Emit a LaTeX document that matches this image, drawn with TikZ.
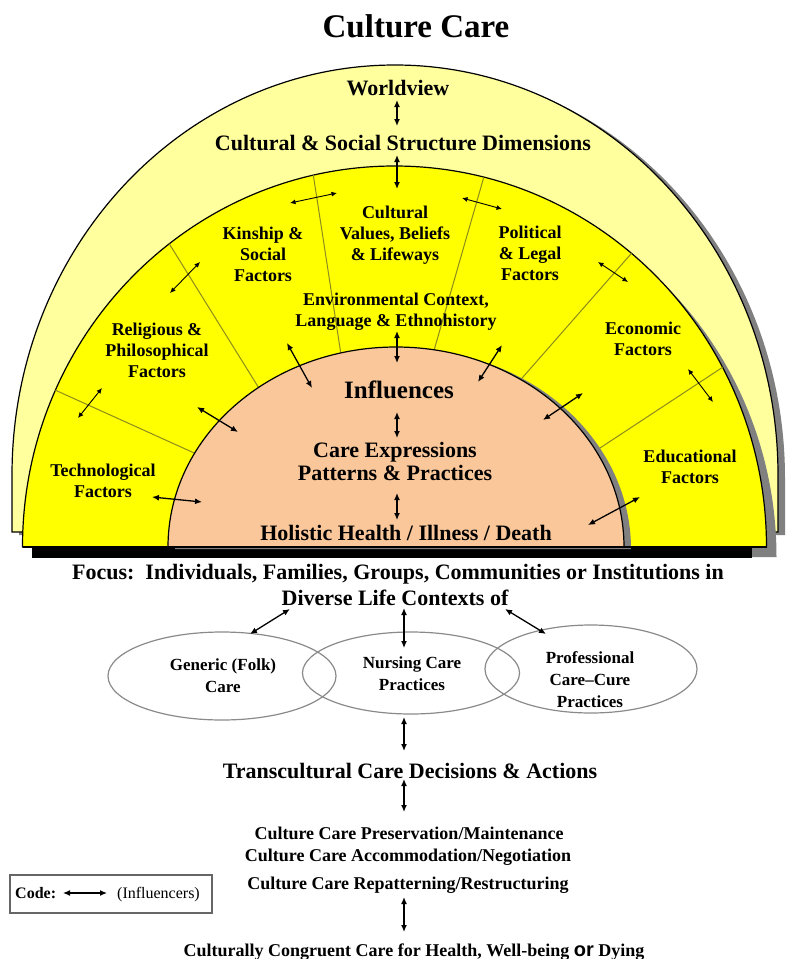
\documentclass[tikz,border=0pt]{standalone}
\usepackage{fontspec}
\setmainfont{Liberation Serif}
\setsansfont{Liberation Sans}
\usetikzlibrary{arrows.meta,shapes.geometric}
\definecolor{paleyel}{HTML}{FFFF9E}
\definecolor{midyel}{HTML}{FFFF00}
\definecolor{coretan}{HTML}{F9C79A}
\definecolor{shadowgray}{HTML}{808080}
\definecolor{divline}{HTML}{8C8C1E}
\definecolor{ellgray}{HTML}{8A8A8A}
\tikzset{
  factor/.style={font=\bfseries\fontsize{18}{21}\selectfont, align=center, anchor=base, inner sep=0pt},
  bigtext/.style={font=\bfseries\fontsize{22}{23}\selectfont, align=center, anchor=base, inner sep=0pt},
  midtext/.style={font=\bfseries\fontsize{18}{20}\selectfont, align=center, anchor=base, inner sep=0pt},
  elltext/.style={font=\bfseries\fontsize{17}{22}\selectfont, align=center, anchor=base, inner sep=0pt},
  ellshape/.style={ellipse, draw=ellgray, line width=1.2pt, inner sep=0pt},
  biarrow/.style={{Latex[length=7pt,width=6pt]}-{Latex[length=7pt,width=6pt]}, line width=1.3pt},
  smallarrow/.style={{Latex[length=5.5pt,width=5pt]}-{Latex[length=5.5pt,width=5pt]}, line width=0.9pt},
  codearrow/.style={{Latex[length=7pt,width=6pt]}-{Latex[length=7pt,width=6pt]}, line width=1.2pt},
  divider/.style={draw=divline, line width=1pt, shorten <=-12pt, shorten >=-12pt},
  outline/.style={draw=black, line width=1.2pt}
}
\begin{document}
\begin{tikzpicture}[x=1pt,y=-1pt]
\useasboundingbox (0,0) rectangle (791,959);

% outer pale band
\fill[shadowgray, shift={(7,3)}] (12,532) -- (12,475) arc[start angle=180,end angle=360,x radius=383,y radius=410] -- (778,532) -- cycle;
\filldraw[fill=paleyel, outline] (12,532) -- (12,475) arc[start angle=180,end angle=360,x radius=383,y radius=410] -- (778,532) -- cycle;

% middle yellow band
\fill[shadowgray, shift={(10,10)}] (22.5,547) arc[start angle=180,end angle=360,x radius=372,y radius=381] -- cycle;
\fill[black] (32,548) rectangle (752,558);
\filldraw[fill=midyel, outline] (22.5,547) arc[start angle=180,end angle=360,x radius=372,y radius=381] -- cycle;

% dividers
\begin{scope}
  \clip (22.5,547) arc[start angle=180,end angle=360,x radius=372,y radius=381] -- cycle;
  \draw[divider] (55,390) -- (192,452);
  \draw[divider] (170,245) -- (257,385);
  \draw[divider] (313,173) -- (340,348);
  \draw[divider] (483,180) -- (435,347);
  \draw[divider] (630,255) -- (523,377);
  \draw[divider] (723,367) -- (600,448);
\end{scope}

% inner core
\fill[shadowgray, shift={(7,2)}] (168,547) arc[start angle=180,end angle=360,x radius=228,y radius=200] -- cycle;
\filldraw[fill=coretan, outline] (168,547) arc[start angle=180,end angle=360,x radius=228,y radius=200] -- cycle;
\draw[black, line width=1.2pt] (22.5,547) -- (766.5,547);

% texts (base anchor = baseline of the last line)
\node[font=\bfseries\fontsize{33}{36}\selectfont, anchor=base, inner sep=0pt] (title) at (416,37) {Culture Care};
\node[bigtext] (wv) at (398,95) {Worldview};
\node[bigtext] (csd) at (403,150) {Cultural \& Social Structure Dimensions};
\node[factor] (cvb) at (395,260) {Cultural\\Values, Beliefs\\\& Lifeways};
\node[factor] (kin) at (263,281) {Kinship \&\\Social\\Factors};
\node[factor] (pol) at (530,280) {Political\\\& Legal\\Factors};
\node[factor] (env) at (396,326) {Environmental Context,\\Language \& Ethnohistory};
\node[factor] (rel) at (157,377) {Religious \&\\Philosophical\\Factors};
\node[factor] (eco) at (643,355) {Economic\\Factors};
\node[factor] (tech) at (103,497) {Technological\\Factors};
\node[factor] (edu) at (690,483) {Educational\\Factors};
\node[font=\bfseries\fontsize{25}{28}\selectfont, anchor=base, inner sep=0pt] (infl) at (399,398) {Influences};
\node[bigtext] (cep) at (395,480) {Care Expressions\\Patterns \& Practices};
\node[bigtext] (hol) at (406,540) {Holistic Health / Illness / Death};

\node[bigtext] (focus) at (398,579) {Focus:\ \ Individuals, Families, Groups, Communities or Institutions in};
\node[bigtext] (div) at (395,605) {Diverse Life Contexts of};

\node[ellshape, minimum width=228pt, minimum height=88pt] (gen) at (222,676) {};
\node[ellshape, minimum width=217pt, minimum height=82pt] (nur) at (411,673) {};
\node[ellshape, minimum width=212pt, minimum height=88pt] (pro) at (591,669) {};
\node[elltext] (gent) at (223,692) {Generic (Folk)\\Care};
\node[elltext] (nurt) at (412,690) {Nursing Care\\Practices};
\node[elltext] (prot) at (590,707) {Professional\\Care–Cure\\Practices};

\node[bigtext] (trans) at (410,778) {Transcultural Care Decisions \& Actions};
\node[midtext] (pres) at (409,839) {Culture Care Preservation/Maintenance};
\node[midtext] (acc) at (408,861) {Culture Care Accommodation/Negotiation};
\node[midtext] (rep) at (408,889) {Culture Care Repatterning/Restructuring};
\node[midtext] (ccc) at (414,956) {Culturally Congruent Care for Health, Well-being {\sffamily\fontsize{20}{22}\selectfont or} Dying};

% legend
\node[draw=black!60, line width=1.3pt, minimum width=202pt, minimum height=38pt, inner sep=0pt] (codebox) at (111,894) {};
\node[font=\bfseries\fontsize{16}{18}\selectfont, anchor=base west, inner sep=0pt] (codelbl) at (15,898) {Code:};
\node[font=\fontsize{16}{18}\selectfont, anchor=base west, inner sep=0pt] (codeinf) at (117,898) {(Influencers)};
\coordinate (cka) at (63,893); \coordinate (ckb) at (107,893);
\draw[codearrow] (cka) -- (ckb);

% arrows: vertical chain
\coordinate (a1s) at (397,100); \coordinate (a1e) at (397,126);
\coordinate (a2s) at (397,155); \coordinate (a2e) at (397,189);
\coordinate (a9s) at (397,331); \coordinate (a9e) at (397,363);
\coordinate (a10s) at (397,412); \coordinate (a10e) at (397,438);
\coordinate (a11s) at (397,493); \coordinate (a11e) at (397,520);
\draw[biarrow] (a1s) -- (a1e);
\draw[biarrow] (a2s) -- (a2e);
\draw[biarrow] (a9s) -- (a9e);
\draw[biarrow] (a10s) -- (a10e);
\draw[biarrow] (a11s) -- (a11e);

% arrows inside band
\coordinate (a3s) at (290,203); \coordinate (a3e) at (337,193);
\coordinate (a4s) at (170,293); \coordinate (a4e) at (200,262);
\coordinate (a5s) at (78,418); \coordinate (a5e) at (102,388);
\coordinate (a12s) at (462,198); \coordinate (a12e) at (502,209);
\coordinate (a13s) at (598,262); \coordinate (a13e) at (628,282);
\coordinate (a16s) at (688,369); \coordinate (a16e) at (713,402);
\draw[smallarrow] (a3s) -- (a3e);
\draw[smallarrow] (a4s) -- (a4e);
\draw[smallarrow] (a5s) -- (a5e);
\draw[smallarrow] (a12s) -- (a12e);
\draw[smallarrow] (a13s) -- (a13e);
\draw[smallarrow] (a16s) -- (a16e);

% arrows crossing into core
\coordinate (a6s) at (197,407); \coordinate (a6e) at (238,432);
\coordinate (a7s) at (287,343); \coordinate (a7e) at (312,388);
\coordinate (a8s) at (152,497); \coordinate (a8e) at (202,502);
\coordinate (a14s) at (502,345); \coordinate (a14e) at (478,382);
\coordinate (a15s) at (583,393); \coordinate (a15e) at (543,420);
\coordinate (a17s) at (640,497); \coordinate (a17e) at (588,525);
\draw[biarrow] (a6s) -- (a6e);
\draw[biarrow] (a7s) -- (a7e);
\draw[biarrow] (a8s) -- (a8e);
\draw[biarrow] (a14s) -- (a14e);
\draw[biarrow] (a15s) -- (a15e);
\draw[biarrow] (a17s) -- (a17e);

% lower arrows
\coordinate (a18s) at (290,609); \coordinate (a18e) at (250,634);
\coordinate (a19s) at (404,608); \coordinate (a19e) at (404,648);
\coordinate (a20s) at (505,609); \coordinate (a20e) at (546,634);
\coordinate (a21s) at (404,717); \coordinate (a21e) at (404,751);
\coordinate (a22s) at (404,779); \coordinate (a22e) at (404,812);
\coordinate (a23s) at (404,897); \coordinate (a23e) at (404,932);
\draw[biarrow] (a18s) -- (a18e);
\draw[biarrow] (a19s) -- (a19e);
\draw[biarrow] (a20s) -- (a20e);
\draw[biarrow] (a21s) -- (a21e);
\draw[biarrow] (a22s) -- (a22e);
\draw[biarrow] (a23s) -- (a23e);
\end{tikzpicture}
\end{document}
